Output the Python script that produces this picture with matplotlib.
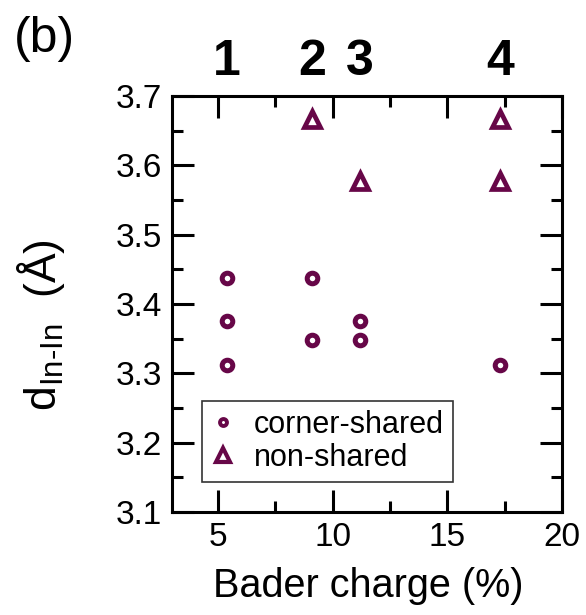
import numpy as np
import matplotlib
matplotlib.use('Agg')
import matplotlib.pyplot as plt
from matplotlib.lines import Line2D

plt.rcParams['font.family'] = ['Liberation Sans', 'DejaVu Sans']
plt.rcParams['mathtext.fontset'] = 'custom'
plt.rcParams['mathtext.rm'] = 'Liberation Sans'
plt.rcParams['mathtext.it'] = 'Liberation Sans'

# dados
corner_x = [5.4, 5.4, 5.4, 9.1, 9.1, 11.2, 11.2, 17.3]
corner_y = [3.437, 3.376, 3.312, 3.437, 3.348, 3.376, 3.348, 3.312]
nonshared_x = [9.1, 11.2, 17.3, 17.3]
nonshared_y = [3.667, 3.578, 3.667, 3.578]
top_labels = ['1', '2', '3', '4']
top_pos = [5.4, 9.1, 11.2, 17.3]

cor = '#670748'

fig = plt.figure(figsize=(5.86, 6.15), dpi=100)
ax = fig.add_axes([0.2935, 0.1675, 0.6655, 0.6765])

ax.plot(corner_x, corner_y, 'o', ls='none', ms=7.6, mew=3.6,
        mec=cor, mfc='white')
ax.plot(nonshared_x, nonshared_y, '^', ls='none', ms=11.5, mew=3.4,
        mec=cor, mfc='white')

ax.set_xlim(3, 20)
ax.set_ylim(3.1, 3.7)
ax.set_xticks([5, 10, 15, 20])
ax.set_xticks([7.5, 12.5, 17.5], minor=True)
ax.set_yticks(np.arange(3.1, 3.71, 0.1))
ax.set_yticks(np.arange(3.15, 3.7, 0.1), minor=True)
ax.set_yticklabels(['3.1', '3.2', '3.3', '3.4', '3.5', '3.6', '3.7'])

ax.tick_params(which='both', direction='in', top=True, right=True,
               width=2.2, labelsize=24)
ax.tick_params(which='major', length=16, pad=7)
ax.tick_params(which='minor', length=8)
for s in ax.spines.values():
    s.set_linewidth(2.2)

ax.set_xlabel('Bader charge (%)', fontsize=28.5)
ax.set_ylabel(r'd$_{\mathregular{In\text{-}In}}$  (Å)', fontsize=32)
ax.xaxis.set_label_coords(0.504, -0.133)
ax.yaxis.set_label_coords(-0.27, 0.45)

# numeros no topo
for lab, xp in zip(top_labels, top_pos):
    ax.text(xp, 1.05, lab, transform=ax.get_xaxis_transform(),
            ha='center', va='baseline', fontsize=36, fontweight='bold')

fig.text(0.024, 0.915, '(b)', fontsize=36, ha='left', va='baseline')

handles = [Line2D([], [], marker='o', ls='none', ms=5, mew=2.8, mec=cor, mfc='white'),
           Line2D([], [], marker='^', ls='none', ms=9.5, mew=3, mec=cor, mfc='white')]
leg = ax.legend(handles, ['corner-shared', 'non-shared'], loc='lower left',
                bbox_to_anchor=(0.077, 0.072), fontsize=22, frameon=True,
                fancybox=False, edgecolor='black', handlelength=0.8,
                handletextpad=0.6, borderpad=0.3, labelspacing=0.1,
                borderaxespad=0)
leg.get_frame().set_linewidth(1.2)

fig.savefig('out.png', dpi=100)
